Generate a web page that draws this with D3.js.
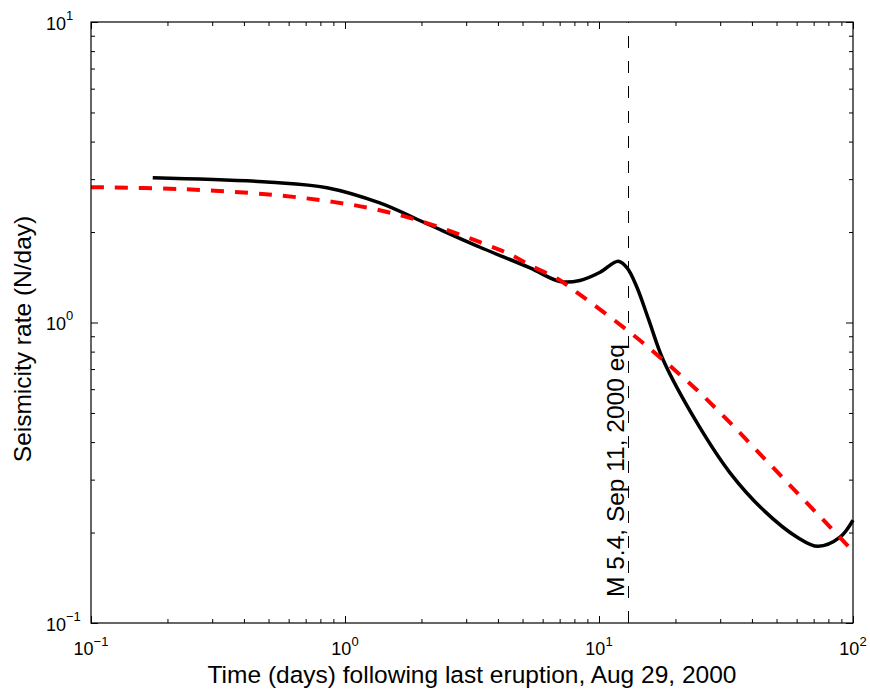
<!DOCTYPE html>
<html>
<head>
<meta charset="utf-8">
<script src="https://cdn.jsdelivr.net/npm/d3@7"></script>
<style>
  body { margin: 0; background: #fff; }
  svg { font-family: "Liberation Sans", Arial, sans-serif; }
</style>
</head>
<body>
<svg id="chart" width="870" height="691"></svg>
<script>
// Model fit (black) and background decay (red dashed), days vs N/day
var modelDays = [0.175, 0.51, 0.849, 1.37, 2.03, 3.40, 5.35, 7.01, 8.41, 10.1, 11.9, 12.9, 14.1, 15.7, 17.9, 24.3, 32.8, 44.3, 60.3, 72.8, 88.9, 100];
var modelRate = [3.03, 2.93, 2.81, 2.50, 2.16, 1.78, 1.52, 1.37, 1.38, 1.47, 1.60, 1.52, 1.31, 1.02, 0.750, 0.464, 0.316, 0.238, 0.193, 0.180, 0.193, 0.220];

var decayDays = [0.1, 0.224, 0.52, 0.897, 1.29, 1.97, 3.40, 4.51, 5.35, 6.84, 8.18, 13.2, 17.9, 24.3, 32.8, 44.3, 60.3, 81.1, 97];
var decayRate = [2.82, 2.78, 2.66, 2.52, 2.39, 2.18, 1.85, 1.68, 1.55, 1.40, 1.26, 0.929, 0.750, 0.596, 0.464, 0.356, 0.271, 0.209, 0.178];

var quakeDay = 13;
var quakeLabel = "M 5.4, Sep 11, 2000 eq";

var xDecades = [-1, 0, 1, 2];
var yDecades = [-1, 0, 1];

var margin = {top: 22, right: 17, bottom: 68, left: 91},
    width = 870 - margin.left - margin.right,
    height = 691 - margin.top - margin.bottom;

var svg = d3.select("#chart");
var g = svg.append("g").attr("transform", "translate(" + margin.left + "," + margin.top + ")");

var x = d3.scaleLog().domain([0.1, 100]).range([0, width]);
var y = d3.scaleLog().domain([0.1, 10]).range([height, 0]);

function minorTicks(decades) {
  var out = [];
  for (var i = 0; i < decades.length - 1; i++)
    for (var k = 2; k <= 9; k++) out.push(k * Math.pow(10, decades[i]));
  return out;
}
var xMajor = xDecades.map(function(d) { return Math.pow(10, d); });
var yMajor = yDecades.map(function(d) { return Math.pow(10, d); });

// ticks on all four sides, pointing in
function addAxis(axisFn, scale, vals, size, tr) {
  var a = g.append("g").attr("transform", tr)
    .call(axisFn(scale).tickValues(vals).tickSize(-size).tickFormat(""));
  a.select(".domain").remove();
  a.selectAll("line").attr("stroke", "#000").attr("stroke-width", 1);
}
addAxis(d3.axisBottom, x, minorTicks(xDecades), 4, "translate(0," + height + ")");
addAxis(d3.axisBottom, x, xMajor, 7, "translate(0," + height + ")");
addAxis(d3.axisTop, x, minorTicks(xDecades), 4, "translate(0,0)");
addAxis(d3.axisTop, x, xMajor, 7, "translate(0,0)");
addAxis(d3.axisLeft, y, minorTicks(yDecades), 4, "translate(0,0)");
addAxis(d3.axisLeft, y, yMajor, 7, "translate(0,0)");
addAxis(d3.axisRight, y, minorTicks(yDecades), 4, "translate(" + width + ",0)");
addAxis(d3.axisRight, y, yMajor, 7, "translate(" + width + ",0)");

// tick labels as 10^n
xDecades.forEach(function(d) {
  var t = g.append("text")
    .attr("x", x(Math.pow(10, d)))
    .attr("y", height + 32)
    .attr("text-anchor", "middle")
    .attr("font-size", 18);
  t.append("tspan").text("10");
  t.append("tspan").attr("dy", -9).attr("font-size", 13).text(d < 0 ? "\u2212" + (-d) : d);
});
yDecades.forEach(function(d) {
  var t = g.append("text")
    .attr("x", 46 - margin.left)
    .attr("y", y(Math.pow(10, d)) + 7.5)
    .attr("font-size", 18);
  t.append("tspan").text("10");
  t.append("tspan").attr("dy", -10).attr("font-size", 13).text(d < 0 ? "\u2212" + (-d) : d);
});

// earthquake marker
var qx = Math.round(x(quakeDay)) + 0.5;
g.append("line")
  .attr("x1", qx).attr("x2", qx)
  .attr("y1", y(0.1)).attr("y2", y(10))
  .attr("stroke", "#000")
  .attr("stroke-width", 1)
  .attr("stroke-dasharray", "12 13");

g.append("text")
  .attr("transform", "translate(" + (x(quakeDay) - 4) + "," + (597 - margin.top) + ") rotate(-90)")
  .attr("font-size", 24.5)
  .text(quakeLabel);

var line = d3.line()
  .x(function(d) { return x(d[0]); })
  .y(function(d) { return y(d[1]); })
  .curve(d3.curveCatmullRom.alpha(0.5));

g.append("path")
  .datum(d3.zip(modelDays, modelRate))
  .attr("d", line)
  .attr("fill", "none")
  .attr("stroke", "#000")
  .attr("stroke-width", 3.5)
  .attr("stroke-linejoin", "round");

g.append("path")
  .datum(d3.zip(decayDays, decayRate))
  .attr("d", line)
  .attr("fill", "none")
  .attr("stroke", "#ff0000")
  .attr("stroke-width", 4)
  .attr("stroke-dasharray", "13 11");

// box
g.append("rect")
  .attr("width", width).attr("height", height)
  .attr("fill", "none")
  .attr("stroke", "#000")
  .attr("stroke-width", 1.2);

// axis titles
svg.append("text")
  .attr("x", margin.left + width / 2)
  .attr("y", 683)
  .attr("text-anchor", "middle")
  .attr("font-size", 24.5)
  .text("Time (days) following last eruption, Aug 29, 2000");

svg.append("text")
  .attr("transform", "translate(31,339) rotate(-90)")
  .attr("text-anchor", "middle")
  .attr("font-size", 24.5)
  .text("Seismicity rate (N/day)");
</script>
</body>
</html>
